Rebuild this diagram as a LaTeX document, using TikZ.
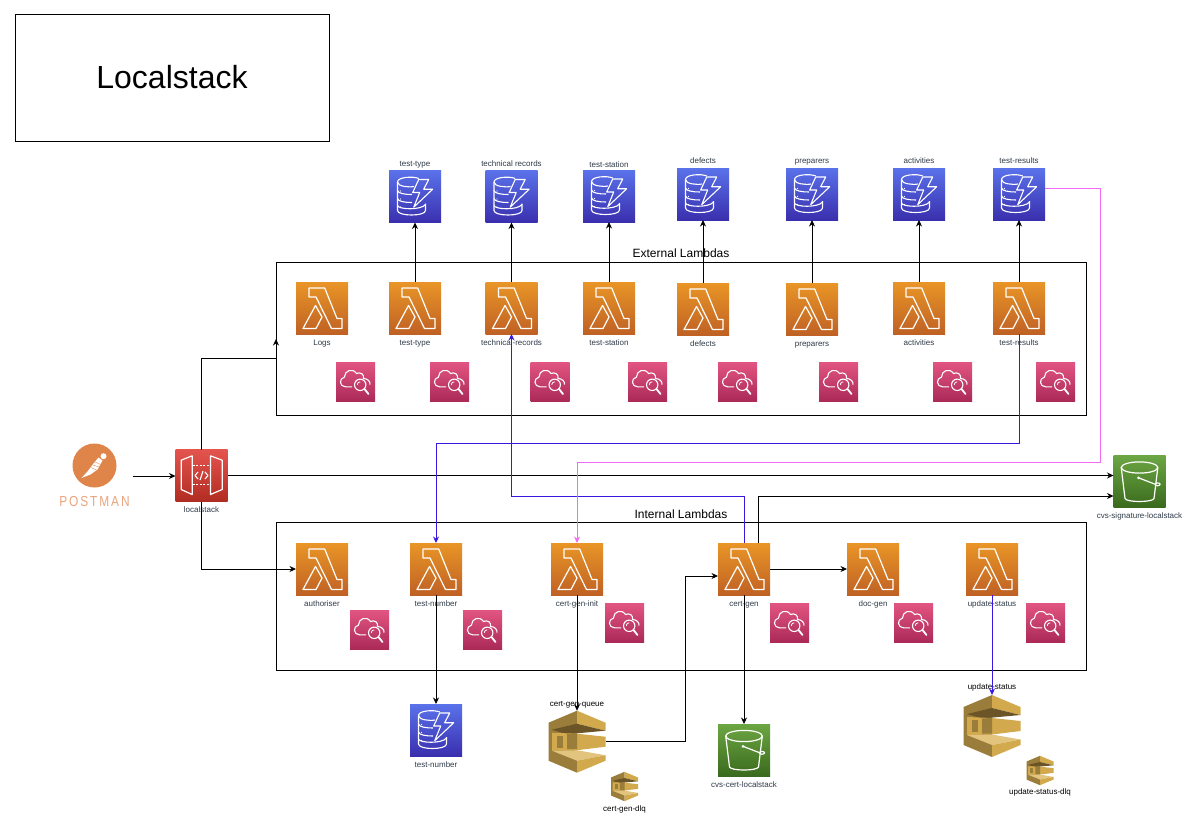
\documentclass[tikz,border=0pt]{standalone}
\usepackage{fontspec}
\usepackage{graphicx}
\setmainfont{Liberation Sans}
\usetikzlibrary{arrows.meta}
\definecolor{sqsdark}{HTML}{9A7C3B}
\definecolor{sqsgold}{HTML}{D2A94C}
\definecolor{sqsslit}{HTML}{6A5428}
\definecolor{sqspale}{HTML}{E2C47F}
\definecolor{awstext}{HTML}{2F3A48}
\definecolor{lambdatop}{HTML}{E99527}
\definecolor{lambdabot}{HTML}{BF6124}
\definecolor{dynamotop}{HTML}{5A72EA}
\definecolor{dynamobot}{HTML}{3A2FAE}
\definecolor{watchtop}{HTML}{E25582}
\definecolor{watchbot}{HTML}{AB2A58}
\definecolor{buckettop}{HTML}{6CA643}
\definecolor{bucketbot}{HTML}{3A6A1D}
\definecolor{gatewaytop}{HTML}{E5544E}
\definecolor{gatewaybot}{HTML}{B02C22}
\definecolor{wireblue}{HTML}{3A17DE}
\definecolor{wirepink}{HTML}{F36AF5}
\definecolor{postmanorange}{HTML}{E0854A}
\definecolor{postmanpale}{HTML}{E9A47C}
\newcommand{\inicon}[1]{\begin{scope}[shift={(path picture bounding box.center)},line join=round]#1\end{scope}}
\newcommand{\lambdaglyph}{
  \draw[white,line width=1.2pt] (-13,-20)--(2.7,-20)--(15,10.5)--(20,10.5)--(20,20.5)--(9.5,20.5)--(-6,-11)--(-13,-11)--cycle;
  \draw[white,line width=1.2pt] (-19,20.5)--(-6.5,-2.5)--(0,9)--(-6,20.5)--cycle;}
\newcommand{\dynamoglyph}{
  \draw[white,line width=1.1pt] (3.7,-18) .. controls (-2,-20.5) and (-17.5,-19.5) .. (-17.5,-14.5) .. controls (-17.5,-10) and (-6,-9) .. (-1,-10);
  \draw[white,line width=1.1pt] (-17.5,-14.5)--(-17.5,14) .. controls (-17.5,20) and (10.5,20) .. (10.5,14)--(10.5,7);
  \draw[white,line width=1.1pt] (-17.5,-6) .. controls (-17,-3) and (-10,-2) .. (-3,-2);
  \draw[white,line width=1.1pt] (-17.5,2) .. controls (-17,5) and (-10,6) .. (-3,6);
  \draw[white,line width=1.1pt] (-17.5,9) .. controls (-17,13) and (6,14) .. (10.5,8);
  \draw[white,line width=1.1pt] (3.7,-17)--(13.7,-17)--(8.7,-7.3)--(17.7,-7.3)--(-1.3,10.7)--(4.7,-4)--(-2.3,-4)--cycle;
  \fill[white] (-14.5,-5.5) circle (.7) (-14.5,2.5) circle (.7) (-14.5,10.5) circle (.7);}
\newcommand{\watchglyph}{
  \draw[white,line width=1.1pt] (-3.5,5.3)--(-10,5.3) .. controls (-16,5.3) and (-17,-3) .. (-11,-4.5) .. controls (-11,-11) and (-3,-14) .. (1,-8) .. controls (5,-10) and (9,-7) .. (8,-3) .. controls (12,-3) and (15,0) .. (14.5,3);
  \draw[white,line width=1.1pt,fill=none] (4.7,3.3) circle (5.7);
  \draw[white,line width=.8pt] (1.7,3.3) arc (180:270:3);
  \draw[white,line width=1.8pt,line cap=round] (9,7.5)--(13,12.5);}
\newcommand{\bucketglyph}{
  \draw[white,line width=1.2pt] (0,-14) ellipse [x radius=18.3,y radius=5.6];
  \draw[white,line width=1.2pt] (-18.3,-14)--(-14.5,17) .. controls (-13,21) and (13,21) .. (14.5,17)--(18.3,-14);
  \draw[white,line width=1.2pt] (-1,-3.7)--(15,2.5);
  \draw[white,line width=1.2pt] (18,2.8) ellipse [x radius=2.6,y radius=1.4];
  \fill[white] (-1,-3.7) circle (1.5);}
\newcommand{\gatewayglyph}{
  \draw[white,line width=1.2pt] (-20.3,-15.3)--(-9.3,-19.7)--(-9.3,19)--(-20.3,14)--cycle;
  \draw[white,line width=1.2pt] (9,-19.7)--(20.7,-15.3)--(20.7,14)--(9,19)--cycle;
  \draw[white,line width=1.1pt,dash pattern=on 2pt off 1.6pt] (-9,-10)--(9,-10) (-9,9)--(9,9);
  \draw[white,line width=1.1pt] (-3.5,-3.5)--(-6.5,0)--(-3.5,3.5) (3.5,-3.5)--(6.5,0)--(3.5,3.5) (1.5,-4.5)--(-1.5,4.5);}
\newcommand{\queueglyph}{
  \fill[sqsdark] (-28.5,-19)--(0,-31)--(0,31)--(-28.5,19)--cycle;
  \fill[sqsgold] (0,-31)--(28.5,-19)--(28.5,-11)--(0,-18)--cycle;
  \fill[sqsslit] (-25,-12)--(0,-18)--(28.5,-11)--(-10,-7.5)--cycle;
  \fill[sqsgold] (-25,-9)--(0,-8)--(28.5,-5)--(28.5,5)--(0,8.5)--(-25,9)--cycle;
  \fill[sqsdark] (-20.5,-6)--(-14,-6)--(-14,6)--(-20.5,6)--cycle;
  \fill[sqsdark] (-10,-7.5)--(0,-8)--(0,7.5)--(-10,7.5)--cycle;
  \fill[sqspale] (-25,9)--(0,8.5)--(28.5,13.5)--(0,19)--cycle;
  \fill[sqsgold] (0,19)--(28.5,13.5)--(28.5,19)--(0,31)--cycle;}
\newcommand{\postmanglyph}{
  \fill[white] (9,-9.3) circle (3);
  \fill[white] (4,-8)--(8,-5)--(3,4)--(-4,9)--(-13,12.5)--(-7,6)--(-1,-2)--cycle;
  \draw[postmanorange,line width=.35pt] (0.5,-3.5)--(6,-1) (-1.5,-.5)--(4.5,1.5) (-3.5,2)--(2,4.5);}
\begin{document}
\begin{tikzpicture}[x=1pt,y=-1pt,>={Stealth[length=6.5pt,width=6pt]},
  every node/.style={font=\fontsize{8}{9}\selectfont,align=center,inner sep=0pt,outer sep=0pt},
  queuelabel/.style={text height=5.8pt,text depth=1.7pt},
  awslabel/.style={queuelabel,text=awstext},
  lambdaicon/.style={minimum size=52pt,top color=lambdatop,bottom color=lambdabot,path picture={\inicon{\lambdaglyph}}},
  dynamoicon/.style={minimum size=52pt,top color=dynamotop,bottom color=dynamobot,path picture={\inicon{\dynamoglyph}}},
  watchicon/.style={minimum size=39pt,top color=watchtop,bottom color=watchbot,path picture={\inicon{\watchglyph}}},
  bucketicon/.style={minimum size=52pt,top color=buckettop,bottom color=bucketbot,path picture={\inicon{\bucketglyph}}},
  gatewayicon/.style={minimum size=52pt,top color=gatewaytop,bottom color=gatewaybot,path picture={\inicon{\gatewayglyph}}},
  queueicon/.style={minimum width=#1*57pt,minimum height=#1*62pt,path picture={\begin{scope}[shift={(path picture bounding box.center)},x=#1pt,y=-#1pt]\queueglyph\end{scope}}},
  groupbox/.style={draw,line width=.8pt},
  wire/.style={->,line width=.8pt},
  bluewire/.style={->,line width=.9pt,draw=wireblue},
  pinkwire/.style={->,line width=.9pt,draw=wirepink}]
\useasboundingbox (0,0) rectangle (1201,833);
% title and groups
\node[groupbox,minimum width=314pt,minimum height=127pt,font=\fontsize{32}{36}\selectfont] (title) at (172,77.5) {Localstack};
\node[groupbox,minimum width=810pt,minimum height=153pt] (external) at (681,338.5) {};
\node[groupbox,minimum width=810pt,minimum height=148pt] (internal) at (681,596) {};
\node[font=\fontsize{12}{14}\selectfont] (externaltitle) at (681,253) {External Lambdas};
\node[font=\fontsize{12}{14}\selectfont] (internaltitle) at (681,514) {Internal Lambdas};
% tables
\node[dynamoicon] (dtype) at (415,196.5) {};
\node[dynamoicon] (drecords) at (511.5,196.5) {};
\node[dynamoicon] (dstation) at (609,196) {};
\node[dynamoicon] (ddefects) at (703,194) {};
\node[dynamoicon] (dpreparers) at (812,194) {};
\node[dynamoicon] (dactivities) at (919,194) {};
\node[dynamoicon] (dresults) at (1019,194) {};
\node[dynamoicon] (dnumber) at (436,730) {};
\node[awslabel] (labdtype) at (415,164) {test-type};
\node[awslabel] (labdrecords) at (511.5,164) {technical records};
\node[awslabel] (labdstation) at (609,165) {test-station};
\node[awslabel] (labddefects) at (703,161) {defects};
\node[awslabel] (labdpreparers) at (812,161) {preparers};
\node[awslabel] (labdactivities) at (919,161) {activities};
\node[awslabel] (labdresults) at (1019,161) {test-results};
\node[awslabel] (labdnumber) at (436,765) {test-number};
% external lambdas
\node[lambdaicon] (llogs) at (322,308) {};
\node[lambdaicon] (ltype) at (415,308) {};
\node[lambdaicon] (lrecords) at (511.5,308) {};
\node[lambdaicon] (lstation) at (609,308) {};
\node[lambdaicon] (ldefects) at (703,309) {};
\node[lambdaicon] (lpreparers) at (812,309) {};
\node[lambdaicon] (lactivities) at (919,308) {};
\node[lambdaicon] (lresults) at (1019,308) {};
\node[awslabel] (labllogs) at (322,343) {Logs};
\node[awslabel] (labltype) at (415,343) {test-type};
\node[awslabel] (lablrecords) at (511.5,343) {technical-records};
\node[awslabel] (lablstation) at (609,343) {test-station};
\node[awslabel] (labldefects) at (703,344) {defects};
\node[awslabel] (lablpreparers) at (812,344) {preparers};
\node[awslabel] (lablactivities) at (919,343) {activities};
\node[awslabel] (lablresults) at (1019,343) {test-results};
\node[watchicon] (wlogs) at (355.5,381.5) {};
\node[watchicon] (wtype) at (449.5,381.5) {};
\node[watchicon] (wrecords) at (550,381.5) {};
\node[watchicon] (wstation) at (647.5,381.5) {};
\node[watchicon] (wdefects) at (737.5,381.5) {};
\node[watchicon] (wpreparers) at (838.5,381.5) {};
\node[watchicon] (wactivities) at (952.5,381.5) {};
\node[watchicon] (wresults) at (1055.5,381.5) {};
% internal lambdas
\node[lambdaicon] (lauthoriser) at (322,569) {};
\node[lambdaicon] (lnumber) at (436,569) {};
\node[lambdaicon] (linit) at (577,569) {};
\node[lambdaicon] (lcert) at (744,569) {};
\node[lambdaicon] (ldoc) at (873,569) {};
\node[lambdaicon] (lupdate) at (992,569) {};
\node[awslabel] (lablauthoriser) at (322,604) {authoriser};
\node[awslabel] (lablnumber) at (436,604) {test-number};
\node[awslabel] (lablinit) at (577,604) {cert-gen-init};
\node[awslabel] (lablcert) at (744,604) {cert-gen};
\node[awslabel] (labldoc) at (873,604) {doc-gen};
\node[awslabel] (lablupdate) at (992,604) {update-status};
\node[watchicon] (wauthoriser) at (369.5,629.5) {};
\node[watchicon] (wnumber) at (482.5,629.5) {};
\node[watchicon] (winit) at (624.5,622.5) {};
\node[watchicon] (wcert) at (789.5,622.5) {};
\node[watchicon] (wdoc) at (913.5,622.5) {};
\node[watchicon] (wupdate) at (1045.5,622.5) {};
% entry side
\node[circle,fill=postmanorange,minimum size=44pt,path picture={\inicon{\postmanglyph}}] (postman) at (94.5,465.5) {};
\node[text=postmanpale,font=\fontsize{14.5}{15}\selectfont\addfontfeatures{LetterSpace=16}] (postmantext) at (94.5,501) {\scalebox{.82}[1]{POSTMAN}};
\node[gatewayicon] (gateway) at (201.5,475.5) {};
\node[awslabel] (labgateway) at (201.5,510) {localstack};
\node[bucketicon] (bsignature) at (1139.5,481.5) {};
\node[awslabel] (labsignature) at (1139.5,516) {cvs-signature-localstack};
% queues and bucket below
\node[queueicon=1] (qinit) at (577,741.7) {};
\node[queueicon=.474] (qinitdlq) at (624.5,786.5) {};
\node[queueicon=1] (qupdate) at (992,726) {};
\node[queueicon=.474] (qupdatedlq) at (1040,770.5) {};
\node[bucketicon] (bcert) at (744,750) {};
\node[queuelabel] (labqinit) at (577,704) {cert-gen-queue};
\node[queuelabel] (labqinitdlq) at (624.5,809) {cert-gen-dlq};
\node[queuelabel] (labqupdate) at (992,687) {update-status};
\node[queuelabel] (labqupdatedlq) at (1040,792) {update-status-dlq};
\node[awslabel] (labbcert) at (744,785) {cvs-cert-localstack};
% free ends of the connectors
\coordinate (postmanout) at (133,476);
\coordinate (certout) at (758,543);
\coordinate (certin) at (718,576);
\coordinate (signaturein) at (1113.5,496);
\coordinate (resultsout) at (1045,188);
% connectors
\draw[wire] (ltype)--(dtype);
\draw[wire] (lrecords)--(drecords);
\draw[wire] (lstation)--(dstation);
\draw[wire] (ldefects)--(ddefects);
\draw[wire] (lpreparers)--(dpreparers);
\draw[wire] (lactivities)--(dactivities);
\draw[wire] (lresults)--(dresults);
\draw[wire] (postmanout)--(gateway.west |- postmanout);
\draw[wire] (gateway.north)--(201.5,358.5)--(276,358.5)--(276,339);
\draw[wire] (gateway.south)--(201.5,569)--(lauthoriser.west);
\draw[wire] (gateway.east)--(bsignature.west |- gateway.east);
\draw[wire] (certout)--(758,496)--(signaturein);
\draw[wire] (lnumber.south)--(dnumber.north);
\draw[wire] (linit.south)--(qinit.north);
\draw[wire] (qinit.east)--(685,741.7)--(685,576)--(certin);
\draw[wire] (lcert.south)--(bcert.north);
\draw[wire] (lcert.east)--(ldoc.west);
\draw[bluewire] (lresults.south)--(1019,443)--(436,443)--(lnumber.north);
\draw[bluewire] (lcert.north)--(744,496)--(511.5,496)--(lrecords.south);
\draw[bluewire] (lupdate.south)--(qupdate.north);
\draw[pinkwire] (resultsout)--(1100.5,188)--(1100.5,462)--(577,462)--(linit.north);
\end{tikzpicture}
\end{document}
